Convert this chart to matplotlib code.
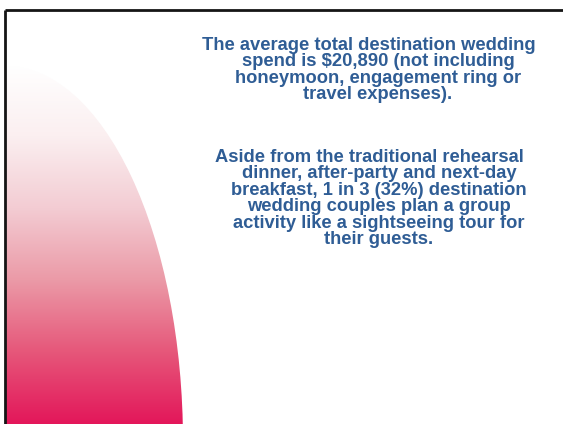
import numpy as np
import matplotlib.pyplot as plt
from matplotlib.patches import Ellipse
from matplotlib.colors import LinearSegmentedColormap

# slide text, one entry per rendered line
para1 = ["The average total destination wedding",
         "spend is $20,890 (not including",
         "honeymoon, engagement ring or",
         "travel expenses)."]
para2 = ["Aside from the traditional rehearsal",
         "dinner, after-party and next-day",
         "breakfast, 1 in 3 (32%) destination",
         "wedding couples plan a group",
         "activity like a sightseeing tour for",
         "their guests."]

W, H = 563, 424
fig = plt.figure(figsize=(W / 100, H / 100), dpi=100)
ax = fig.add_axes([0, 0, 1, 1])
ax.set_xlim(0, W)
ax.set_ylim(H, 0)
ax.axis('off')

# pink gradient arc on the left
cmap = LinearSegmentedColormap.from_list(
    'pink', ['#ffffff', '#fbeff0', '#f3ccd3', '#eb9aa7', '#e6577a', '#e3175a'])
grad = np.linspace(0, 1, 256).reshape(-1, 1)
img = ax.imshow(grad, cmap=cmap, extent=[6, 200, 424, 64], aspect='auto', zorder=1)
ell = Ellipse((6, 442), width=2 * 177, height=2 * 376, transform=ax.transData)
img.set_clip_path(ell)

# slide border (top and left)
ax.plot([4.5, W], [9.5, 9.5], color='#151515', lw=2.0, zorder=3, solid_capstyle='butt')
ax.plot([4.5, 4.5], [9.5, H], color='#151515', lw=2.0, zorder=3, solid_capstyle='butt')

txt = dict(color='#2f5d95', fontsize=13.2, fontweight='bold', family='Liberation Sans',
           ha='center', va='center')
step = 16.6
for i, line in enumerate(para1):
    ax.text(369 if i == 0 else 378, 45 + i * step, line, **txt)
for i, line in enumerate(para2):
    ax.text(369 if i == 0 else 379, 157 + i * step, line, **txt)

fig.savefig('out.png', dpi=100)
